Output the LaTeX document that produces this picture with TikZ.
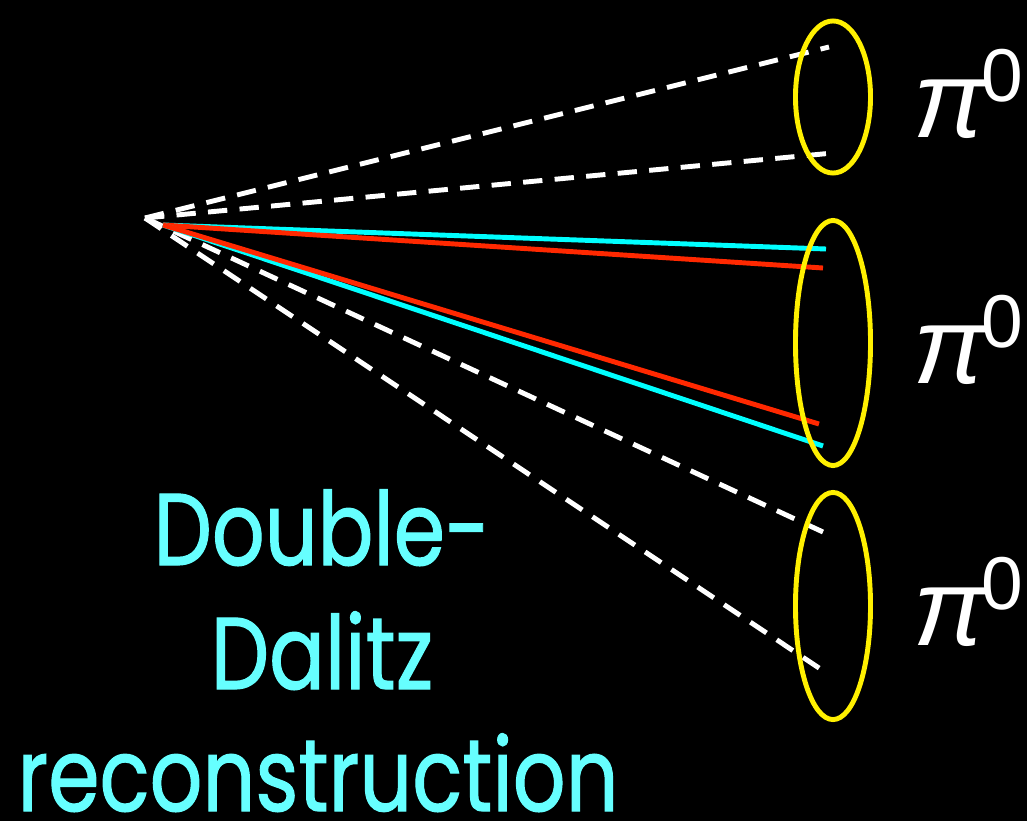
\documentclass[tikz,border=0pt]{standalone}
\usepackage{fontspec}
\usepackage{graphicx}
\setmainfont{Poppins}
\newfontfamily\capfont[FakeBold=1.2]{Poppins}
\newfontfamily\pifont{Liberation Sans}
\usetikzlibrary{shapes.geometric}

\definecolor{textcyan}{RGB}{102,255,255}
\definecolor{trackcyan}{RGB}{0,255,255}
\definecolor{trackred}{RGB}{255,40,0}
\definecolor{ringyellow}{RGB}{255,240,0}

\tikzset{
  photon/.style={white,line width=1.4pt,dash pattern=on 5.5pt off 3.5pt},
  track/.style={line width=1.4pt},
  piring/.style={ellipse,draw=ringyellow,line width=1.4pt,minimum width=0.75cm,inner sep=0pt},
  pilabel/.style={white,anchor=base west,inner sep=0pt},
  caption/.style={textcyan,anchor=base,inner sep=0pt,font=\capfont\fontsize{29}{35}\selectfont}
}
\newcommand{\pizero}{{\pifont\fontsize{31}{33}\selectfont\itshape π}\kern-1.5pt\raisebox{10pt}{\pifont\fontsize{21.3}{22}\selectfont 0}}
\newcommand{\narrow}[1]{\scalebox{0.81}[1]{#1}}

\begin{document}
\begin{tikzpicture}[x=0.01cm,y=-0.01cm]
            \fill[black] (0,0) rectangle (1027,821);
            \useasboundingbox (0,0) rectangle (1027,821);

            \coordinate (V) at (145,218);
            \coordinate (W) at (163,225);
            \coordinate (A) at (829,47);
            \coordinate (B) at (833,153);
            \coordinate (C) at (823,532);
            \coordinate (D) at (828,674);
            \coordinate (E) at (826,249);
            \coordinate (F) at (823,268);
            \coordinate (G) at (819,424);
            \coordinate (H) at (823,446);

            \draw[photon] (V)--(A);
            \draw[photon] (V)--(B);
            \draw[photon] (V)--(C);
            \draw[photon] (V)--(D);

            \draw[track,trackcyan] (W)--(E);
            \draw[track,trackred] (W)--(F);
            \draw[track,trackcyan] (W)--(H);
            \draw[track,trackred] (W)--(G);

            \node[piring,minimum height=1.52cm] (top) at (833,97) {};
            \node[piring,minimum height=2.45cm] (mid) at (833,343) {};
            \node[piring,minimum height=2.27cm] (bot) at (833,606) {};

            \node[pilabel] (ltop) at (913,137) {\pizero};
            \node[pilabel] (lmid) at (913,383) {\pizero};
            \node[pilabel] (lbot) at (913,645) {\pizero};

            \node[caption] (cap1) at (322,565) {\narrow{Double-}};
            \node[caption] (cap2) at (322,689) {\narrow{Dalitz}};
            \node[caption] (cap3) at (318,811) {\narrow{reconstruction}};
        \end{tikzpicture}
\end{document}
